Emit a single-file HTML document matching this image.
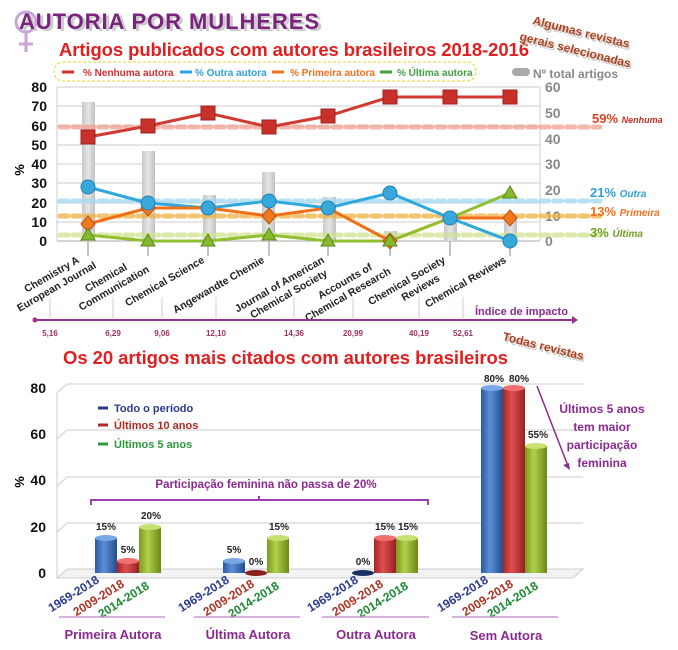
<!DOCTYPE html>
<html><head><meta charset="utf-8"><style>
body{margin:0;background:#fff}
svg{display:block;font-family:"Liberation Sans",Arial,sans-serif}
</style></head><body>
<svg width="678" height="650" viewBox="0 0 678 650" xmlns="http://www.w3.org/2000/svg">
<defs>
<linearGradient id="gb" x1="0" x2="1"><stop offset="0" stop-color="#2a5aa0"/><stop offset=".4" stop-color="#5b8fd6"/><stop offset="1" stop-color="#244e8e"/></linearGradient>
<linearGradient id="gr" x1="0" x2="1"><stop offset="0" stop-color="#a82424"/><stop offset=".4" stop-color="#e05050"/><stop offset="1" stop-color="#962020"/></linearGradient>
<linearGradient id="gg" x1="0" x2="1"><stop offset="0" stop-color="#7a9a20"/><stop offset=".4" stop-color="#b2d04a"/><stop offset="1" stop-color="#6a8a18"/></linearGradient>
<linearGradient id="gy" x1="0" x2="1"><stop offset="0" stop-color="#c8c8c8"/><stop offset=".5" stop-color="#e6e6e6"/><stop offset="1" stop-color="#c0c0c0"/></linearGradient>
</defs>
<!-- header -->
<circle cx="26" cy="22" r="10" fill="none" stroke="#c9a6d6" stroke-width="3"/>
<line x1="26" y1="32" x2="26" y2="52" stroke="#c9a6d6" stroke-width="3"/>
<line x1="19" y1="44" x2="33" y2="44" stroke="#c9a6d6" stroke-width="3"/>
<text x="22" y="31" font-size="22" font-weight="bold" fill="#ccc" textLength="300">AUTORIA POR MULHERES</text>
<text x="19" y="29" font-size="22" font-weight="bold" fill="#7a2480" textLength="300">AUTORIA POR MULHERES</text>
<text x="59" y="56" font-size="18.5" font-weight="bold" fill="#e02020" textLength="470">Artigos publicados com autores brasileiros 2018-2016</text>
<g transform="translate(532,24) rotate(14)" font-size="12" font-weight="bold"><text x="2" y="2" fill="#ccc">Algumas revistas</text><text x="0" y="0" fill="#b0401c">Algumas revistas</text></g>
<g transform="translate(519,40) rotate(14)" font-size="12" font-weight="bold"><text x="2" y="2" fill="#ccc">gerais selecionadas</text><text x="0" y="0" fill="#b0401c">gerais selecionadas</text></g>
<!-- legend -->
<rect x="54" y="62" width="422" height="19" rx="9" fill="none" stroke="#f0d020" stroke-dasharray="3,2"/>
<g font-size="10" font-weight="bold">
<line x1="62" y1="72" x2="74" y2="72" stroke="#d03030" stroke-width="3"/><text x="83" y="76" fill="#d03030">% Nenhuma autora</text>
<line x1="180" y1="72" x2="192" y2="72" stroke="#30a0d8" stroke-width="3"/><text x="195" y="76" fill="#30a0d8">% Outra autora</text>
<line x1="272" y1="72" x2="284" y2="72" stroke="#f07020" stroke-width="3"/><text x="290" y="76" fill="#f07020">% Primeira autora</text>
<line x1="380" y1="72" x2="392" y2="72" stroke="#40a040" stroke-width="3"/><text x="397" y="76" fill="#40a040">% Última autora</text>
</g>
<rect x="512" y="68" width="18" height="8" rx="4" fill="#aaa"/>
<text x="533" y="78" font-size="12" font-weight="bold" fill="#888">Nº total artigos</text>
<!-- grid top -->
<g stroke="#ccc" stroke-width="1">
<line x1="57" y1="87" x2="540" y2="87"/><line x1="57" y1="106" x2="540" y2="106"/><line x1="57" y1="126" x2="540" y2="126"/><line x1="57" y1="145" x2="540" y2="145"/><line x1="57" y1="164" x2="540" y2="164"/><line x1="57" y1="183" x2="540" y2="183"/><line x1="57" y1="203" x2="540" y2="203"/><line x1="57" y1="222" x2="540" y2="222"/><line x1="57" y1="241" x2="540" y2="241" stroke="#aaa"/>
<line x1="57" y1="87" x2="57" y2="241"/><line x1="540" y1="87" x2="540" y2="241"/>
</g>
<g font-size="14" font-weight="bold" fill="#111" text-anchor="end">
<text x="47" y="92">80</text><text x="47" y="111">70</text><text x="47" y="131">60</text><text x="47" y="150">50</text><text x="47" y="169">40</text><text x="47" y="188">30</text><text x="47" y="208">20</text><text x="47" y="227">10</text><text x="47" y="246">0</text>
</g>
<g font-size="14" font-weight="bold" fill="#888">
<text x="545" y="92">60</text><text x="545" y="118">50</text><text x="545" y="144">40</text><text x="545" y="169">30</text><text x="545" y="195">20</text><text x="545" y="221">10</text><text x="545" y="246">0</text>
</g>
<text transform="translate(24,170) rotate(-90)" font-size="13" font-weight="bold" text-anchor="middle">%</text>
<!-- gray bars -->
<g fill="url(#gy)">
<rect x="82" y="102" width="13" height="139"/><rect x="142" y="151" width="13" height="90"/><rect x="203" y="195" width="13" height="46"/><rect x="262" y="172" width="13" height="69"/><rect x="323" y="197" width="13" height="44"/><rect x="384" y="231" width="13" height="10"/><rect x="444" y="215" width="13" height="26"/><rect x="504" y="215" width="13" height="26"/>
</g>
<!-- dashed averages -->
<g stroke-width="5" stroke-dasharray="8,5" stroke-linecap="round" opacity=".75">
<line x1="60" y1="127" x2="600" y2="127" stroke="#f0a090"/>
<line x1="60" y1="201" x2="600" y2="201" stroke="#a0d8f0"/>
<line x1="60" y1="216" x2="600" y2="216" stroke="#f0b040"/>
<line x1="60" y1="235" x2="600" y2="235" stroke="#d0e490"/>
</g>
<g font-weight="bold">
<text x="592" y="123" font-size="13" fill="#e04020">59% <tspan font-size="9" font-style="italic" fill="#c03020">Nenhuma</tspan></text>
<text x="590" y="197" font-size="13" fill="#30a0d8">21% <tspan font-size="10" font-style="italic">Outra</tspan></text>
<text x="590" y="216" font-size="13" fill="#f07020">13% <tspan font-size="10" font-style="italic">Primeira</tspan></text>
<text x="590" y="237" font-size="13" fill="#70a020">3% <tspan font-size="10" font-style="italic">Última</tspan></text>
</g>
<!-- tick stems -->
<g stroke="#888" stroke-width="1"><line x1="88" y1="241" x2="88" y2="256"/><line x1="148" y1="241" x2="148" y2="256"/><line x1="208" y1="241" x2="208" y2="256"/><line x1="269" y1="241" x2="269" y2="256"/><line x1="328" y1="241" x2="328" y2="256"/><line x1="390" y1="241" x2="390" y2="256"/><line x1="450" y1="241" x2="450" y2="256"/><line x1="510" y1="241" x2="510" y2="256"/></g>
<!-- lines -->
<polyline fill="none" stroke="#d03a30" stroke-width="3" points="88,137 148,126 208,113 269,127 328,116 390,97 450,97 510,97"/>
<polyline fill="none" stroke="#30a8dc" stroke-width="3" points="88,187 148,203 208,208 269,201 328,208 390,193 450,218 510,241"/>
<polyline fill="none" stroke="#f07018" stroke-width="3" points="88,224 148,208 208,208 269,216 328,208 390,241 450,218 510,218"/>
<polyline fill="none" stroke="#90c030" stroke-width="3" points="88,235 148,241 208,241 269,235 328,241 390,241 450,218 510,193"/>
<!-- markers -->
<g fill="#c8302a" stroke="#a02020"><rect x="81" y="130" width="14" height="14"/><rect x="141" y="119" width="14" height="14"/><rect x="201" y="106" width="14" height="14"/><rect x="262" y="120" width="14" height="14"/><rect x="321" y="109" width="14" height="14"/><rect x="383" y="90" width="14" height="14"/><rect x="443" y="90" width="14" height="14"/><rect x="503" y="90" width="14" height="14"/></g>
<g fill="#f07820" stroke="#c05010"><path d="M88,216 l7,8 -7,8 -7,-8z"/><path d="M148,200 l7,8 -7,8 -7,-8z"/><path d="M269,208 l7,8 -7,8 -7,-8z"/><path d="M390,233 l7,8 -7,8 -7,-8z"/><path d="M510,210 l7,8 -7,8 -7,-8z"/></g>
<g fill="#38a8dc" stroke="#2080b0"><circle cx="88" cy="187" r="7"/><circle cx="148" cy="203" r="7"/><circle cx="208" cy="208" r="7"/><circle cx="269" cy="201" r="7"/><circle cx="328" cy="208" r="7"/><circle cx="390" cy="193" r="7"/><circle cx="450" cy="218" r="7"/><circle cx="510" cy="241" r="7"/></g>
<g fill="#88b830" stroke="#5a8a18"><path d="M88,228 l7,12 -14,0z"/><path d="M148,234 l7,12 -14,0z"/><path d="M208,234 l7,12 -14,0z"/><path d="M269,228 l7,12 -14,0z"/><path d="M328,234 l7,12 -14,0z"/><path d="M390,234 l7,12 -14,0z"/><path d="M510,186 l7,12 -14,0z"/></g>
<!-- category labels -->
<g font-size="10.5" font-weight="bold" fill="#222" text-anchor="end">
<text transform="translate(80,262) rotate(-30)"><tspan x="0" y="0">Chemistry A</tspan><tspan x="12" y="13">European Journal</tspan></text>
<text transform="translate(140,262) rotate(-30)"><tspan x="-14" y="0">Chemical</tspan><tspan x="4" y="13">Communication</tspan></text>
<text transform="translate(205,262) rotate(-30)">Chemical Science</text>
<text transform="translate(265,262) rotate(-30)">Angewandte Chemie</text>
<text transform="translate(325,262) rotate(-30)"><tspan x="0" y="0">Journal of American</tspan><tspan x="-4" y="13">Chemical Society</tspan></text>
<text transform="translate(385,262) rotate(-30)"><tspan x="-14" y="0">Accounts of</tspan><tspan x="0" y="13">Chemical Research</tspan></text>
<text transform="translate(446,262) rotate(-30)"><tspan x="0" y="0">Chemical Society</tspan><tspan x="-14" y="13">Reviews</tspan></text>
<text transform="translate(507,262) rotate(-30)">Chemical Reviews</text>
</g>
<!-- impact axis -->
<g stroke="#e0c0e8" stroke-width="1"><line x1="50" y1="297" x2="50" y2="318"/><line x1="113" y1="297" x2="113" y2="318"/><line x1="162" y1="297" x2="162" y2="318"/><line x1="216" y1="297" x2="216" y2="318"/><line x1="294" y1="297" x2="294" y2="318"/><line x1="353" y1="297" x2="353" y2="318"/><line x1="419" y1="297" x2="419" y2="318"/><line x1="463" y1="297" x2="463" y2="318"/></g>
<line x1="35" y1="320" x2="575" y2="320" stroke="#9a3090" stroke-width="2"/>
<circle cx="35" cy="320" r="2.5" fill="#9a3090"/>
<path d="M572,316 l6,4 -6,4z" fill="#9a3090"/>
<text x="475" y="315" font-size="11" font-weight="bold" fill="#8a2a90">Índice de impacto</text>
<g font-size="8" font-weight="bold" fill="#a03060" text-anchor="middle">
<text x="50" y="336">5,16</text><text x="113" y="336">6,29</text><text x="162" y="336">9,06</text><text x="216" y="336">12,10</text><text x="294" y="336">14,36</text><text x="353" y="336">20,99</text><text x="419" y="336">40,19</text><text x="463" y="336">52,61</text>
</g>
<!-- bottom chart -->
<text x="63" y="364" font-size="18.5" font-weight="bold" fill="#e02020" textLength="445">Os 20 artigos mais citados com autores brasileiros</text>
<g transform="translate(502,340) rotate(14)" font-size="12" font-weight="bold"><text x="2" y="2" fill="#ccc">Todas revistas</text><text x="0" y="0" fill="#b0401c">Todas revistas</text></g>
<g stroke="#ccc" stroke-width="1" fill="none">
<path d="M57,393 l10,-9 H583"/><path d="M57,439 l10,-9 H583"/><path d="M57,486 l10,-9 H583"/><path d="M57,532 l10,-9 H583"/>
<path d="M57,578 l10,-9 H583 l-10,9 H57z" fill="#f2f2f2"/>
<line x1="57" y1="393" x2="57" y2="578"/>
</g>
<g font-size="14" font-weight="bold" fill="#111" text-anchor="end">
<text x="46" y="393">80</text><text x="46" y="439">60</text><text x="46" y="485">40</text><text x="46" y="532">20</text><text x="46" y="578">0</text>
</g>
<text transform="translate(24,482) rotate(-90)" font-size="13" font-weight="bold" text-anchor="middle">%</text>
<g font-size="11" font-weight="bold">
<line x1="98" y1="408" x2="108" y2="408" stroke="#2a3a90" stroke-width="3"/><text x="114" y="412" fill="#2a3a90">Todo o período</text>
<line x1="98" y1="425" x2="108" y2="425" stroke="#b02a20" stroke-width="3"/><text x="114" y="429" fill="#b02a20">Últimos 10 anos</text>
<line x1="98" y1="444" x2="108" y2="444" stroke="#2a9a3a" stroke-width="3"/><text x="114" y="448" fill="#2a9a3a">Últimos 5 anos</text>
</g>
<text x="266" y="488" font-size="11.5" font-weight="bold" fill="#8a2a90" text-anchor="middle">Participação feminina não passa de 20%</text>
<path d="M91,505 v-5 H428 v5 M259,500 v-4" fill="none" stroke="#9a40b0" stroke-width="2"/>
<!-- cylinders -->
<g>
<rect x="95" y="538" width="22" height="35" fill="url(#gb)"/><ellipse cx="106" cy="538" rx="11" ry="3" fill="#7aa8e6"/>
<rect x="117" y="561" width="22" height="12" fill="url(#gr)"/><ellipse cx="128" cy="561" rx="11" ry="3" fill="#f07070"/>
<rect x="139" y="527" width="22" height="46" fill="url(#gg)"/><ellipse cx="150" cy="527" rx="11" ry="3" fill="#c8e070"/>
<rect x="223" y="561" width="22" height="12" fill="url(#gb)"/><ellipse cx="234" cy="561" rx="11" ry="3" fill="#7aa8e6"/>
<ellipse cx="256" cy="573" rx="11" ry="3" fill="#8a2020"/>
<rect x="267" y="538" width="22" height="35" fill="url(#gg)"/><ellipse cx="278" cy="538" rx="11" ry="3" fill="#c8e070"/>
<ellipse cx="363" cy="573" rx="11" ry="3" fill="#1a3060"/>
<rect x="374" y="538" width="22" height="35" fill="url(#gr)"/><ellipse cx="385" cy="538" rx="11" ry="3" fill="#f07070"/>
<rect x="396" y="538" width="22" height="35" fill="url(#gg)"/><ellipse cx="407" cy="538" rx="11" ry="3" fill="#c8e070"/>
<rect x="481" y="388" width="22" height="185" fill="url(#gb)"/><ellipse cx="492" cy="388" rx="11" ry="3" fill="#7aa8e6"/>
<rect x="503" y="388" width="22" height="185" fill="url(#gr)"/><ellipse cx="514" cy="388" rx="11" ry="3" fill="#f07070"/>
<rect x="525" y="446" width="22" height="127" fill="url(#gg)"/><ellipse cx="536" cy="446" rx="11" ry="3" fill="#c8e070"/>
</g>
<g font-size="10" font-weight="bold" fill="#222" text-anchor="middle">
<text x="106" y="530">15%</text><text x="128" y="553">5%</text><text x="151" y="519">20%</text>
<text x="234" y="553">5%</text><text x="256" y="565">0%</text><text x="279" y="530">15%</text>
<text x="363" y="565">0%</text><text x="385" y="530">15%</text><text x="408" y="530">15%</text>
<text x="494" y="382">80%</text><text x="519" y="382">80%</text><text x="538" y="438">55%</text>
</g>
<text font-size="12" font-weight="bold" fill="#8a2a90" text-anchor="middle"><tspan x="602" y="413">Últimos 5 anos</tspan><tspan x="602" y="431">tem maior</tspan><tspan x="602" y="449">participação</tspan><tspan x="602" y="467">feminina</tspan></text>
<path d="M537,386 L568,466" stroke="#8a2a90" stroke-width="1.5"/><path d="M570,470 l-7,-5 6,-2z" fill="#8a2a90"/>
<!-- x labels -->
<g font-size="12" font-weight="bold" text-anchor="end">
<text transform="translate(100,582) rotate(-32)" fill="#2a3a90">1969-2018</text>
<text transform="translate(125,586) rotate(-32)" fill="#b03020">2009-2018</text>
<text transform="translate(150,588) rotate(-32)" fill="#1a8a30">2014-2018</text>
<text transform="translate(230,582) rotate(-32)" fill="#2a3a90">1969-2018</text>
<text transform="translate(255,586) rotate(-32)" fill="#b03020">2009-2018</text>
<text transform="translate(280,588) rotate(-32)" fill="#1a8a30">2014-2018</text>
<text transform="translate(359,582) rotate(-32)" fill="#2a3a90">1969-2018</text>
<text transform="translate(384,586) rotate(-32)" fill="#b03020">2009-2018</text>
<text transform="translate(409,588) rotate(-32)" fill="#1a8a30">2014-2018</text>
<text transform="translate(489,582) rotate(-32)" fill="#2a3a90">1969-2018</text>
<text transform="translate(514,586) rotate(-32)" fill="#b03020">2009-2018</text>
<text transform="translate(539,588) rotate(-32)" fill="#1a8a30">2014-2018</text>
</g>
<g stroke="#c89ad0" stroke-width="1.5" fill="none">
<path d="M59,617 H165"/><path d="M194,617 H300"/><path d="M322,617 H429"/><path d="M452,617 H558"/>
</g>
<g font-size="13" font-weight="bold" fill="#8a2a90" text-anchor="middle">
<text x="113" y="639">Primeira Autora</text><text x="248" y="639">Última Autora</text><text x="376" y="639">Outra Autora</text><text x="506" y="640">Sem Autora</text>
</g>
</svg>
</body></html>
